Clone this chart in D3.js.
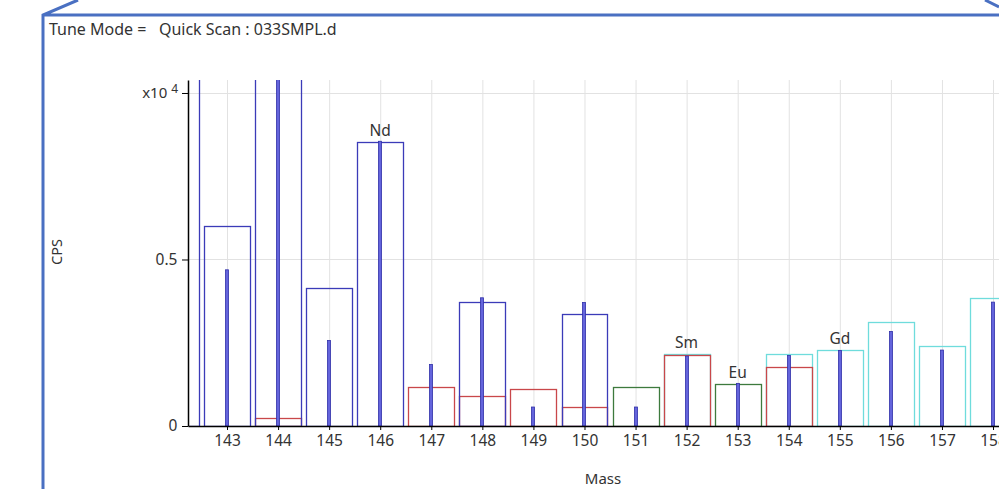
<!DOCTYPE html>
<html>
<head>
<meta charset="utf-8">
<script src="https://cdn.jsdelivr.net/npm/d3@7"></script>
<style>
  body { margin: 0; background: #fff; }
  svg { display: block; font-family: "Segoe UI", "Noto Sans", "Open Sans", sans-serif; }
</style>
</head>
<body>
<div id="chart"></div>
<script>
// Quick scan spectrum, x10^4 CPS
const masses = [142, 143, 144, 145, 146, 147, 148, 149, 150, 151, 152, 153, 154, 155, 156, 157, 158];

// reference isotope patterns (outline boxes)
const ndMass = [142, 143, 144, 145, 146, 148, 150];
const ndVals = [2.7, 0.60, 1.5, 0.413, 0.853, 0.371, 0.337];
const smMass = [144, 147, 148, 149, 150, 152, 154];
const smVals = [0.025, 0.118, 0.09, 0.11, 0.056, 0.212, 0.178];
const euMass = [151, 153];
const euVals = [0.118, 0.125];
const gdMass = [152, 154, 155, 156, 157, 158];
const gdVals = [0.215, 0.216, 0.227, 0.311, 0.24, 0.383];

// measured signal (sticks)
const stickVals = [2.5, 0.469, 1.6, 0.257, 0.855, 0.185, 0.385, 0.057, 0.371, 0.057, 0.21, 0.128, 0.212, 0.227, 0.284, 0.228, 0.372];

const labelMass = [146, 152, 153, 155];
const labelText = ["Nd", "Sm", "Eu", "Gd"];
const yTicks = [0, 0.5, 1];

const width = 999, height = 489;
const plot = { left: 188, right: 999, top: 80, bottom: 426 };

const svg = d3.select("#chart").append("svg")
  .attr("width", width)
  .attr("height", height);

const x = d3.scaleLinear()
  .domain([142.236, 158.117])
  .range([plot.left, plot.right]);

const y = d3.scaleLinear()
  .domain([0, 1.039])
  .range([plot.bottom, plot.top]);

// frame
svg.append("path")
  .attr("d", "M78,0 L43,15 L43,489 M43,15 L999,15 M985,0 L999,7")
  .attr("fill", "none")
  .attr("stroke", "#4a70c2")
  .attr("stroke-width", 3);

svg.append("text")
  .attr("x", 49)
  .attr("y", 35)
  .attr("font-size", 16)
  .attr("fill", "#333")
  .attr("xml:space", "preserve")
  .text("Tune Mode =   Quick Scan : 033SMPL.d");

svg.append("defs").append("clipPath")
  .attr("id", "clip")
  .append("rect")
    .attr("x", plot.left)
    .attr("y", plot.top)
    .attr("width", plot.right - plot.left)
    .attr("height", plot.bottom - plot.top);

// grid
const grid = svg.append("g");
grid.selectAll("line.v")
  .data(masses.filter(m => x(m) > plot.left))
  .enter().append("line")
    .attr("x1", d => x(d) + 0.5)
    .attr("x2", d => x(d) + 0.5)
    .attr("y1", plot.top)
    .attr("y2", plot.bottom)
    .attr("stroke", "#e2e2e2");
grid.selectAll("line.h")
  .data(yTicks.slice(1))
  .enter().append("line")
    .attr("x1", plot.left)
    .attr("x2", plot.right)
    .attr("y1", d => Math.round(y(d)) + 0.5)
    .attr("y2", d => Math.round(y(d)) + 0.5)
    .attr("stroke", "#e2e2e2");

const bars = svg.append("g").attr("clip-path", "url(#clip)");

function boxes(ms, vs, color) {
  bars.append("g").selectAll("rect")
    .data(ms.map((m, i) => ({ m, v: vs[i] })))
    .enter().append("rect")
      .attr("x", d => Math.round(x(d.m - 0.45)) + 0.5)
      .attr("y", d => Math.round(y(d.v)) + 0.5)
      .attr("width", d => Math.round(x(d.m + 0.45)) - Math.round(x(d.m - 0.45)))
      .attr("height", d => Math.round(y(0)) - Math.round(y(d.v)))
      .attr("fill", "none")
      .attr("stroke", color)
      .attr("stroke-width", 1.3);
}

boxes(euMass, euVals, "#3d7a3d");
boxes(gdMass, gdVals, "#6fdcdc");
boxes(smMass, smVals, "#c9474a");
boxes(ndMass, ndVals, "#3b3bb8");

// sticks
bars.append("g").selectAll("rect")
  .data(masses.map((m, i) => ({ m, v: stickVals[i] })))
  .enter().append("rect")
    .attr("x", d => Math.round(x(d.m)) - 1.5)
    .attr("y", d => y(d.v))
    .attr("width", 3)
    .attr("height", d => y(0) - y(d.v))
    .attr("fill", "#6464dc")
    .attr("stroke", "#3030a8")
    .attr("stroke-width", 0.8);

// element labels
svg.append("g").selectAll("text")
  .data(labelMass.map((m, i) => ({ m, t: labelText[i] })))
  .enter().append("text")
    .attr("x", d => x(d.m))
    .attr("y", d => {
      const tops = [ndMass, smMass, euMass, gdMass].map((ms, k) => {
        const vs = [ndVals, smVals, euVals, gdVals][k];
        const j = ms.indexOf(d.m);
        return j < 0 ? 0 : vs[j];
      });
      return y(d3.max(tops)) - 6;
    })
    .attr("text-anchor", "middle")
    .attr("font-size", 15.5)
    .attr("fill", "#333")
    .text(d => d.t);

// axes
const xAxis = svg.append("g")
  .attr("transform", `translate(0,${plot.bottom})`)
  .call(d3.axisBottom(x).tickValues(masses.filter(m => x(m) > plot.left)).tickFormat(d3.format("d")).tickSize(4).tickSizeOuter(0));
xAxis.select(".domain").attr("stroke", "#000").attr("stroke-width", 1.5);
xAxis.selectAll("text").attr("font-size", 15.5).attr("fill", "#333").attr("dy", "0.85em");

const yAxis = svg.append("g")
  .attr("transform", `translate(${plot.left},0)`)
  .call(d3.axisLeft(y).tickValues(yTicks).tickFormat(d => d === 1 ? "" : (d === 0 ? "0" : "0.5")).tickSize(6).tickSizeOuter(0));
yAxis.select(".domain").attr("stroke", "#000").attr("stroke-width", 1.5);
yAxis.selectAll("text").attr("font-size", 15.5).attr("fill", "#333").attr("dx", "-0.1em");
yAxis.attr("font-family", null);
xAxis.attr("font-family", null);

const mult = svg.append("text")
  .attr("x", plot.left - 10)
  .attr("y", y(1) + 5)
  .attr("text-anchor", "end")
  .attr("font-size", 15)
  .attr("fill", "#333");
mult.append("tspan").text("x10 ");
mult.append("tspan").attr("font-size", 12).attr("dy", -5).text("4");

// axis titles
svg.append("text")
  .attr("transform", `translate(62,${(plot.top + plot.bottom) / 2 - 1}) rotate(-90)`)
  .attr("text-anchor", "middle")
  .attr("font-size", 14.5)
  .attr("fill", "#333")
  .text("CPS");

svg.append("text")
  .attr("x", 603)
  .attr("y", 484)
  .attr("text-anchor", "middle")
  .attr("font-size", 15)
  .attr("fill", "#333")
  .text("Mass");
</script>
</body>
</html>
